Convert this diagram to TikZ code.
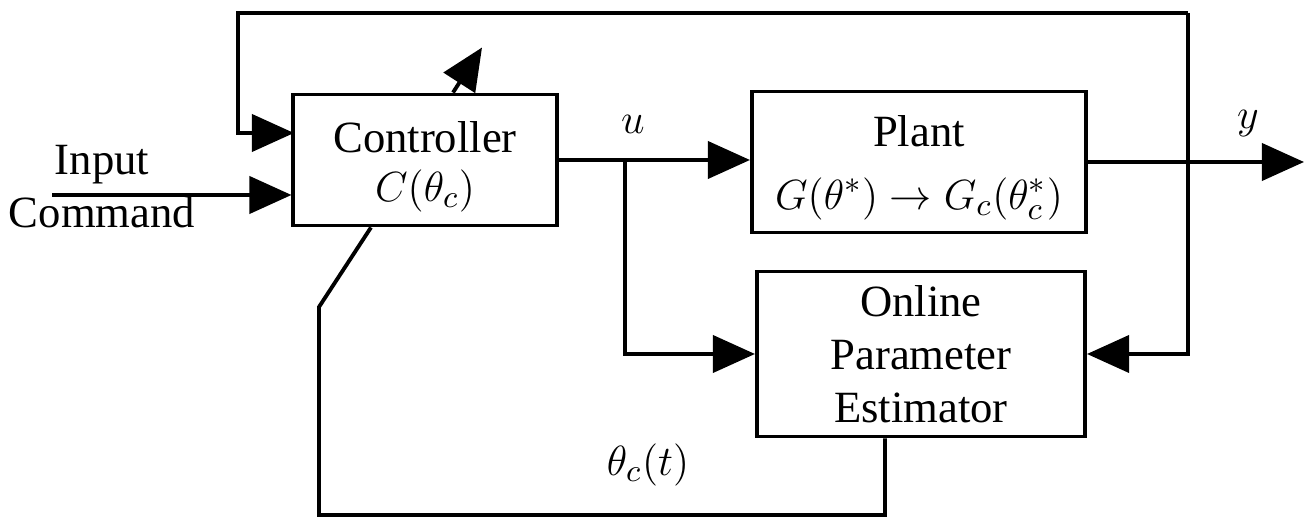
\documentclass[tikz,border=0pt]{standalone}
\usepackage{fontspec}
\setmainfont{Liberation Serif}
\usetikzlibrary{arrows.meta,positioning}

\tikzset{
  every node/.style={font=\fontsize{12.7}{15}\selectfont},
  block/.style={draw,line width=1.1pt,align=center,inner sep=0pt},
  wire/.style={line width=1.1pt},
  sig/.style={wire,-{Triangle[length=0.42cm,width=0.37cm]}}
}

\begin{document}
\begin{tikzpicture}[x=0.01cm,y=-0.01cm]
\useasboundingbox (0,0) rectangle (1308,519);

% blocks
\node[block,minimum width=2.63cm,minimum height=1.31cm] (ctrl) at (425,160)
  {\rule{0pt}{0.44cm}Controller\\[-0.04cm]$C(\theta_c)$};
\node[block,minimum width=3.34cm,minimum height=1.41cm] (plant) at (919,162)
  {\rule{0pt}{0.42cm}Plant\\[0.1cm]$G(\theta^{*})\rightarrow G_c(\theta^{*}_c)$};
\node[block,minimum width=3.28cm,minimum height=1.65cm] (est) at (921,354)
  {Online\\Parameter\\Estimator};

% labels
\node (inp) at (102,165) {Input};
\node (cmd) at (102,212) {Command};
\node (ulab) at (633,124) {$u$};
\node (ylab) at (1248,124) {$y$};
\node (thlab) at (648,465) {$\theta_c(t)$};

% corner points of the wires
\coordinate (inStart) at (52,195);
\coordinate (ctrlIn) at (294,133);
\coordinate (uSplit) at (625,160);
\coordinate (yEnd) at (1304,162);
\coordinate (fbTR) at (1188,13);
\coordinate (fbTL) at (238,13);
\coordinate (fbLow) at (319,515);
\coordinate (fbKink) at (319,307);

% forward path
\draw[sig] (inStart) -- (inStart -| ctrl.west);
\draw[sig] (ctrl.east) -- (ctrl.east -| plant.west);
\draw[sig] (plant.east) -- (yEnd);
\draw[sig] (uSplit) |- (est.west);

% feedback of y
\draw[sig] (fbTR) -- (fbTL) |- (ctrlIn);
\draw[sig] (fbTR) |- (est.east);

% parameter update
\draw[wire] ([xshift=-0.36cm]est.south) |- (fbLow) -- (fbKink) -- ([xshift=-0.54cm]ctrl.south);
\draw[sig] ([xshift=0.28cm]ctrl.north) -- ++(29,-45);

\end{tikzpicture}
\end{document}
